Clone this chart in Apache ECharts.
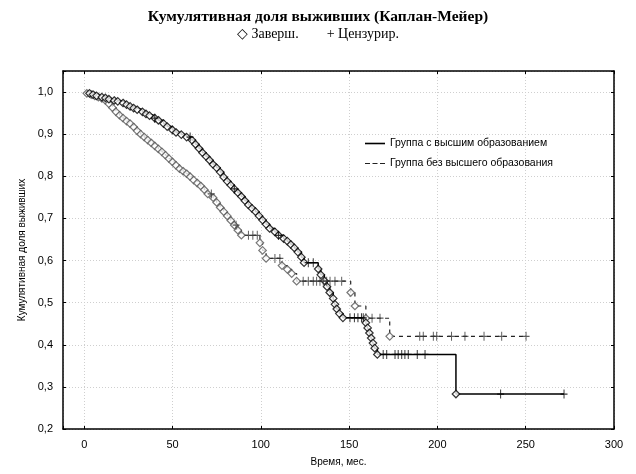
<!DOCTYPE html>
<html>
<head>
<meta charset="utf-8">
<script src="https://cdn.jsdelivr.net/npm/echarts@6/dist/echarts.min.js"></script>
<style>
  html, body { margin: 0; padding: 0; background: #fff; }
  #km { width: 636px; height: 474px; }
</style>
</head>
<body>
<div id="km"></div>
<script>
var myChart = echarts.init(document.getElementById('km'));

// группа с высшим образованием: [время, доля выживших] после события
const solidEvents = [
  [3,0.997],[5,0.994],[7,0.991],[10,0.988],[12,0.986],[14,0.983],[17,0.980],[19,0.978],
  [22,0.974],[24,0.970],[26,0.966],[28,0.962],[30,0.958],[33,0.953],[35,0.948],[37,0.944],
  [40,0.938],[42,0.933],[45,0.925],[47,0.918],[50,0.910],[52,0.904],[55,0.899],[58,0.893],
  [61,0.886],[63,0.876],[65,0.866],[67,0.856],[69,0.847],[71,0.838],[73,0.828],[75,0.820],
  [77,0.810],[79,0.798],[81,0.788],[83,0.779],[85,0.770],[87,0.761],[89,0.752],[91,0.742],
  [93,0.732],[95,0.724],[97,0.716],[99,0.706],[101,0.696],[103,0.686],[105,0.676],[108,0.668],
  [110,0.660],[113,0.652],[115,0.646],[117,0.638],[119,0.630],[121,0.620],[123,0.608],[124.5,0.595],
  [132.5,0.580],[134,0.566],[136,0.552],[137.5,0.538],[139,0.524],[141,0.510],[142,0.496],[143,0.485],
  [144.5,0.474],[146.5,0.464],[159.5,0.452],[160.5,0.440],[161.5,0.428],[162.5,0.416],[163.5,0.404],
  [164.5,0.392],[166,0.377],[210.5,0.283]
];
const solidCensored = [40, 60, 85, 110, 126.9, 129.7, 150.5, 153, 155, 157, 158,
  169.3, 171.3, 176, 177.8, 179.8, 181.6, 183.5, 188.6, 193, 235.8, 271.7];

// группа без высшего образования
const dashedEvents = [
  [1.5,0.997],[4,0.994],[6,0.991],[8,0.988],[10,0.985],[12,0.980],[14,0.972],[16,0.963],
  [18,0.953],[20,0.945],[22,0.938],[24,0.931],[26,0.925],[28,0.917],[30,0.908],[32,0.900],
  [34,0.893],[36,0.886],[38,0.879],[40,0.872],[42,0.865],[44,0.858],[46,0.850],[48,0.842],
  [50,0.834],[52,0.826],[54,0.818],[56,0.812],[58,0.806],[60,0.799],[62,0.791],[64,0.784],
  [66,0.777],[68,0.768],[70,0.758],[73,0.749],[75,0.738],[77,0.726],[79,0.716],[81,0.706],
  [83,0.695],[85,0.684],[87,0.672],[89,0.660],[99.5,0.642],[101,0.624],[103,0.605],[112,0.588],
  [115,0.579],[117.5,0.569],[120.3,0.551],[150.9,0.524],[153.3,0.492],[159.5,0.463],[173,0.420]
];
const dashedCensored = [72, 86, 93, 95.5, 98, 108, 110.8, 124, 126.9, 129.7, 131.6, 133.5,
  135.4, 137.3, 139.2, 142, 145.8, 163, 167.5, 190, 192, 197.7, 199.6, 208, 215.6, 226.4,
  236.4, 250.2];

const startTime = 1;
const groupNames = ['Группа с высшим образованием', 'Группа без высшего образования'];
const xTicks = [0, 50, 100, 150, 200, 250, 300];

function levelAt(events, t) {
  let s = 1;
  events.forEach(function (e) { if (e[0] <= t) s = e[1]; });
  return s;
}
function stepLine(events, cens) {
  const last = Math.max(events[events.length - 1][0], cens[cens.length - 1]);
  return [[startTime, 1]].concat(events, [[last, levelAt(events, last)]]);
}
function censPoints(events, cens) {
  return cens.map(function (t) { return [t, levelAt(events, t)]; });
}

const plusPath = 'path://M4,0 L5.3,0 L5.3,4 L9.3,4 L9.3,5.3 L5.3,5.3 L5.3,9.3 L4,9.3 L4,5.3 L0,5.3 L0,4 L4,4 Z';
const fmt = function (v) { return Math.abs(v * 10 - Math.round(v * 10)) < 1e-6 ? v.toFixed(1).replace('.', ',') : ''; };
const frameLine = { show: true, onZero: false, lineStyle: { color: '#000', width: 1.5 } };
const gridLine = { show: true, lineStyle: { color: '#cfcfcf', type: [1, 2], width: 1 } };

var option = {
  animation: false,
  title: {
    text: 'Кумулятивная доля выживших (Каплан-Мейер)',
    subtext: '◇ Заверш.        + Цензурир.',
    left: 'center',
    top: 4,
    itemGap: 2,
    textStyle: { fontFamily: 'Liberation Serif', fontWeight: 'bold', fontSize: 15.5, color: '#000' },
    subtextStyle: { fontFamily: 'Liberation Serif', fontSize: 14, color: '#000' }
  },
  legend: {
    data: [
      { name: groupNames[0], icon: 'path://M0,4 L20,4 L20,5.6 L0,5.6 Z' },
      { name: groupNames[1], icon: 'path://M0,4 L5,4 L5,5.2 L0,5.2 Z M7.5,4 L12.5,4 L12.5,5.2 L7.5,5.2 Z M15,4 L20,4 L20,5.2 L15,5.2 Z' }
    ],
    orient: 'vertical',
    left: 360,
    top: 133,
    itemWidth: 20,
    itemHeight: 10,
    itemGap: 9,
    textStyle: { fontFamily: 'Liberation Sans', fontSize: 10.5, color: '#000' }
  },
  grid: { left: 63, top: 71, right: 22, bottom: 45 },
  xAxis: [{
    type: 'value', min: -12, max: 300, minInterval: 50, maxInterval: 50,
    name: 'Время, мес.', nameLocation: 'middle', nameGap: 28,
    nameTextStyle: { fontFamily: 'Liberation Sans', fontSize: 10, color: '#000' },
    axisLine: frameLine,
    axisTick: { inside: true, length: 3, lineStyle: { color: '#000' } },
    axisLabel: { margin: 10, fontFamily: 'Liberation Sans', fontSize: 11, color: '#000',
      formatter: function (v) { return xTicks.indexOf(v) >= 0 ? String(v) : ''; } },
    splitLine: gridLine
  }, {
    type: 'value', position: 'top', min: -12, max: 300, minInterval: 50, maxInterval: 50,
    axisLine: frameLine,
    axisTick: { inside: true, length: 3, lineStyle: { color: '#000' } },
    axisLabel: { show: false }, splitLine: { show: false }
  }],
  yAxis: [{
    type: 'value', min: 0.2, max: 1.05, interval: 0.1,
    name: 'Кумулятивная доля выживших', nameLocation: 'middle', nameGap: 36, nameRotate: 90,
    nameTextStyle: { fontFamily: 'Liberation Sans', fontSize: 10, color: '#000' },
    axisLine: frameLine,
    axisTick: { inside: true, length: 3, lineStyle: { color: '#000' } },
    axisLabel: { margin: 10, fontFamily: 'Liberation Sans', fontSize: 11, color: '#000', formatter: fmt },
    splitLine: gridLine
  }, {
    type: 'value', position: 'right', min: 0.2, max: 1.05, interval: 0.1,
    axisLine: frameLine,
    axisTick: { inside: true, length: 3, lineStyle: { color: '#000' } },
    axisLabel: { show: false }, splitLine: { show: false }
  }],
  series: [
    {
      name: groupNames[0], type: 'line', step: 'end', showSymbol: false, symbol: 'none',
      data: stepLine(solidEvents, solidCensored),
      itemStyle: { color: '#000' },
      lineStyle: { color: '#000', width: 1.5 }, z: 3
    },
    {
      name: groupNames[1], type: 'line', step: 'end', showSymbol: false, symbol: 'none',
      data: stepLine(dashedEvents, dashedCensored),
      itemStyle: { color: '#222' },
      lineStyle: { color: '#222', width: 1.2, type: [4, 4] }, z: 2
    },
    {
      name: 'solidEv', type: 'scatter', symbol: 'diamond', symbolSize: 7.5,
      data: solidEvents,
      itemStyle: { color: '#fff', borderColor: '#000', borderWidth: 1.2 }, z: 5
    },
    {
      name: 'dashedEv', type: 'scatter', symbol: 'diamond', symbolSize: 7.5,
      data: dashedEvents,
      itemStyle: { color: '#fff', borderColor: '#555', borderWidth: 1.2 }, z: 4
    },
    {
      name: 'solidCens', type: 'scatter', symbol: plusPath, symbolSize: [7, 9],
      data: censPoints(solidEvents, solidCensored),
      itemStyle: { color: '#000' }, z: 6
    },
    {
      name: 'dashedCens', type: 'scatter', symbol: plusPath, symbolSize: [7, 9],
      data: censPoints(dashedEvents, dashedCensored),
      itemStyle: { color: '#333' }, z: 6
    }
  ]
};
myChart.setOption(option);
</script>
</body>
</html>
